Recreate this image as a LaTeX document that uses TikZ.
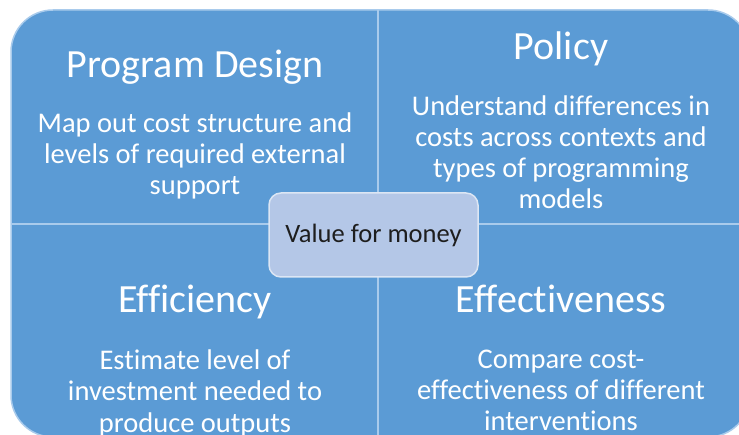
\documentclass[tikz,border=0pt]{standalone}
\usepackage{fontspec}
\setmainfont{Carlito}[Ligatures=NoCommon]
\definecolor{quadblue}{HTML}{5B9BD5}
\definecolor{quadline}{HTML}{A9CBEC}
\definecolor{vfmfill}{HTML}{B4C7E7}
\definecolor{vfmline}{HTML}{DCE6F4}
\definecolor{vfmtext}{HTML}{1E1E1E}
\tikzset{
  quadtitle/.style={text=white,anchor=base,font=\fontsize{40}{44}\selectfont},
  % base of a multi-line node sits on its last line
  quadbody/.style={text=white,anchor=base,align=center,font=\fontsize{28.5}{31.3}\selectfont},
  vfmbox/.style={draw=vfmline,fill=vfmfill,line width=1.5pt,rounded corners=12pt,
    minimum width=209pt,minimum height=84pt,text=vfmtext,font=\fontsize{26.5}{30}\selectfont},
}
\begin{document}
\begin{tikzpicture}[x=1pt,y=-1pt]
		\def\xl{195}
		\def\xr{561}
		\def\xm{378}
		\def\ym{224}
		\useasboundingbox (0,0) rectangle (739,435);
		\fill[white] (0,0) rectangle (739,435);
		\clip (0,0) rectangle (739,435);
		% four quadrants
		\fill[quadblue,draw=quadline,line width=1.5pt,rounded corners=42pt] (11,10) rectangle (750,437);
		\draw[quadline,line width=2.5pt] (\xm,10) -- (\xm,437);
		\draw[quadline,line width=2.5pt] (11,\ym) -- (750,\ym);
		% top left
		\node[quadtitle] (design) at (\xl,78) {Program Design};
		\node[quadbody] (designtxt) at (\xl,195) {Map out cost structure and\\levels of required external\\support};
		% top right
		\node[quadtitle] (policy) at (\xr,60) {Policy};
		\node[quadbody] (policytxt) at (\xr,209) {Understand differences in\\costs across contexts and\\types of programming\\models};
		% bottom left
		\node[quadtitle] (efficiency) at (\xl,313) {Efficiency};
		\node[quadbody] (efficiencytxt) at (\xl,432) {Estimate level of\\investment needed to\\produce outputs};
		% bottom right
		\node[quadtitle] (effect) at (\xr,313) {Effectiveness};
		\node[quadbody] (effecttxt) at (\xr,431) {Compare cost-\\effectiveness of different\\interventions};
		% centre
		\node[vfmbox] (vfm) at (373.5,235) {Value for money};
\end{tikzpicture}
\end{document}
